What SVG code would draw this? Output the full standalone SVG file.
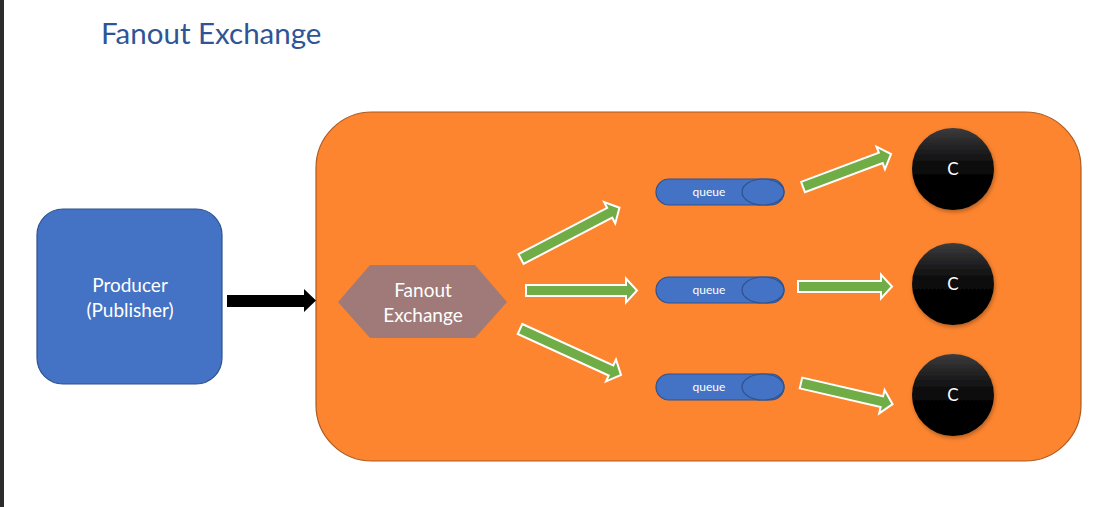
<svg xmlns="http://www.w3.org/2000/svg" width="1103" height="507" viewBox="0 0 1103 507">
<defs>
<style>
.lbl{font-family:Lato,"Liberation Sans",sans-serif;fill:#ffffff;text-anchor:middle}
.garrow{fill:#70AD47;stroke:#ffffff;stroke-width:2;stroke-linejoin:miter}
.q{fill:#4472C4;stroke:#2F528F;stroke-width:1.2}
.c{fill:url(#cg);filter:url(#sh)}
</style>
<linearGradient id="cg" x1="0" y1="0" x2="0" y2="1">
<stop offset="0" stop-color="#3c3c3e"/>
<stop offset="0.2" stop-color="#262627"/>
<stop offset="0.45" stop-color="#0c0c0c"/>
<stop offset="0.7" stop-color="#000000"/>
<stop offset="1" stop-color="#000000"/>
</linearGradient>
<filter id="sh" x="-20%" y="-20%" width="140%" height="140%">
<feDropShadow dx="1" dy="2" stdDeviation="2" flood-color="#000000" flood-opacity="0.3"/>
</filter>
<path id="ga1" d="M0,-5.5 L100,-5.5 L100,-12 L111,0 L100,12 L100,5.5 L0,5.5 Z"/>
<path id="ga2" d="M0,-5.5 L83,-5.5 L83,-12 L94,0 L83,12 L83,5.5 L0,5.5 Z"/>
</defs>
<rect x="0" y="0" width="1103" height="507" fill="#ffffff"/>
<rect x="0" y="0" width="4" height="507" fill="#2b2b2b"/>
<text x="101" y="44" font-family="Lato,'Liberation Sans',sans-serif" font-size="29.5" fill="#2F5597">Fanout Exchange</text>

<g id="broker">
<rect x="316" y="112" width="765" height="349" rx="56" ry="56" fill="#FD852F" stroke="#AE5A21" stroke-width="1.2"/>
</g>

<g id="producer">
<rect x="37" y="209" width="185" height="175" rx="26" ry="26" fill="#4472C4" stroke="#2F528F" stroke-width="1.2"/>
<text class="lbl" x="130" y="292" font-size="19">Producer</text>
<text class="lbl" x="130" y="317" font-size="19">(Publisher)</text>
</g>

<g id="exchange">
<polygon points="338,302 370,265 475,265 507,302 475,338 370,338" fill="#A07A78"/>
<text class="lbl" x="423" y="297" font-size="19">Fanout</text>
<text class="lbl" x="423" y="322" font-size="19">Exchange</text>
</g>

<g id="queue1">
<rect class="q" x="656" y="179" width="128" height="26" rx="13" ry="13"/>
<ellipse class="q" cx="763" cy="192" rx="21" ry="13"/>
<text class="lbl" x="709" y="196" font-size="12">queue</text>
</g>
<g id="queue2">
<rect class="q" x="656" y="277" width="128" height="26" rx="13" ry="13"/>
<ellipse class="q" cx="763" cy="290" rx="21" ry="13"/>
<text class="lbl" x="709" y="294" font-size="12">queue</text>
</g>
<g id="queue3">
<rect class="q" x="656" y="374" width="128" height="26" rx="13" ry="13"/>
<ellipse class="q" cx="763" cy="387" rx="21" ry="13"/>
<text class="lbl" x="709" y="391" font-size="12">queue</text>
</g>

<g id="consumer1">
<circle class="c" cx="953" cy="169" r="41"/>
<text class="lbl" x="953" y="175" font-size="17">C</text>
</g>
<g id="consumer2">
<circle class="c" cx="953" cy="284" r="41"/>
<text class="lbl" x="953" y="290" font-size="17">C</text>
</g>
<g id="consumer3">
<circle class="c" cx="953" cy="395" r="41"/>
<text class="lbl" x="953" y="401" font-size="17">C</text>
</g>

<g id="connectors">
<polygon points="227,295 304,295 304,289 316,300.5 304,312 304,307 227,307" fill="#000000"/>
<use href="#ga1" class="garrow" transform="translate(521,259) rotate(-27.5)"/>
<use href="#ga1" class="garrow" transform="translate(526,290.5)"/>
<use href="#ga1" class="garrow" transform="translate(520,329) rotate(24.5)"/>
<use href="#ga2" class="garrow" transform="translate(803,187) rotate(-20.5)"/>
<use href="#ga2" class="garrow" transform="translate(798,286.5)"/>
<use href="#ga2" class="garrow" transform="translate(801,383) rotate(13)"/>
</g>
</svg>
